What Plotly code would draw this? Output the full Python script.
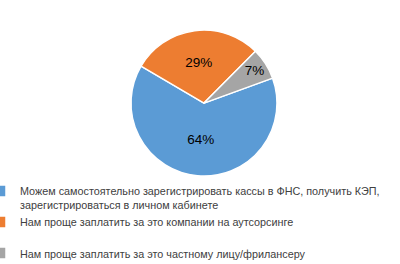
import plotly.graph_objects as go

labels = [
    "Можем самостоятельно зарегистрировать кассы в ФНС, получить КЭП,<br>зарегистрироваться в личном кабинете",
    "Нам проще заплатить за это компании на аутсорсинге<br> ",
    "Нам проще заплатить за это частному лицу/фрилансеру",
]
values = [64, 29, 7]
colors = ["#5B9BD5", "#ED7D31", "#A5A5A5"]

fig = go.Figure(go.Pie(
    labels=labels,
    values=values,
    sort=False,
    direction="clockwise",
    rotation=70,
    marker=dict(colors=colors, line=dict(color="white", width=1.5)),
    texttemplate="%{value}%",
    textposition="inside",
    insidetextorientation="horizontal",
    textfont=dict(size=13.5, color="black", family="Liberation Sans"),
    domain=dict(x=[0.3275, 0.6925], y=[0.333, 0.886]),
    hoverinfo="label+percent",
))

fig.update_layout(
    width=400, height=264,
    margin=dict(l=0, r=0, t=0, b=0, autoexpand=False),
    paper_bgcolor="white",
    showlegend=True,
    legend=dict(
        x=-0.05, y=0.328, xanchor="left", yanchor="top",
        orientation="v", valign="top",
        font=dict(size=10.8, color="#404040", family="Liberation Sans"),
        itemwidth=30,
    ),
)

fig.write_html("out.html")
